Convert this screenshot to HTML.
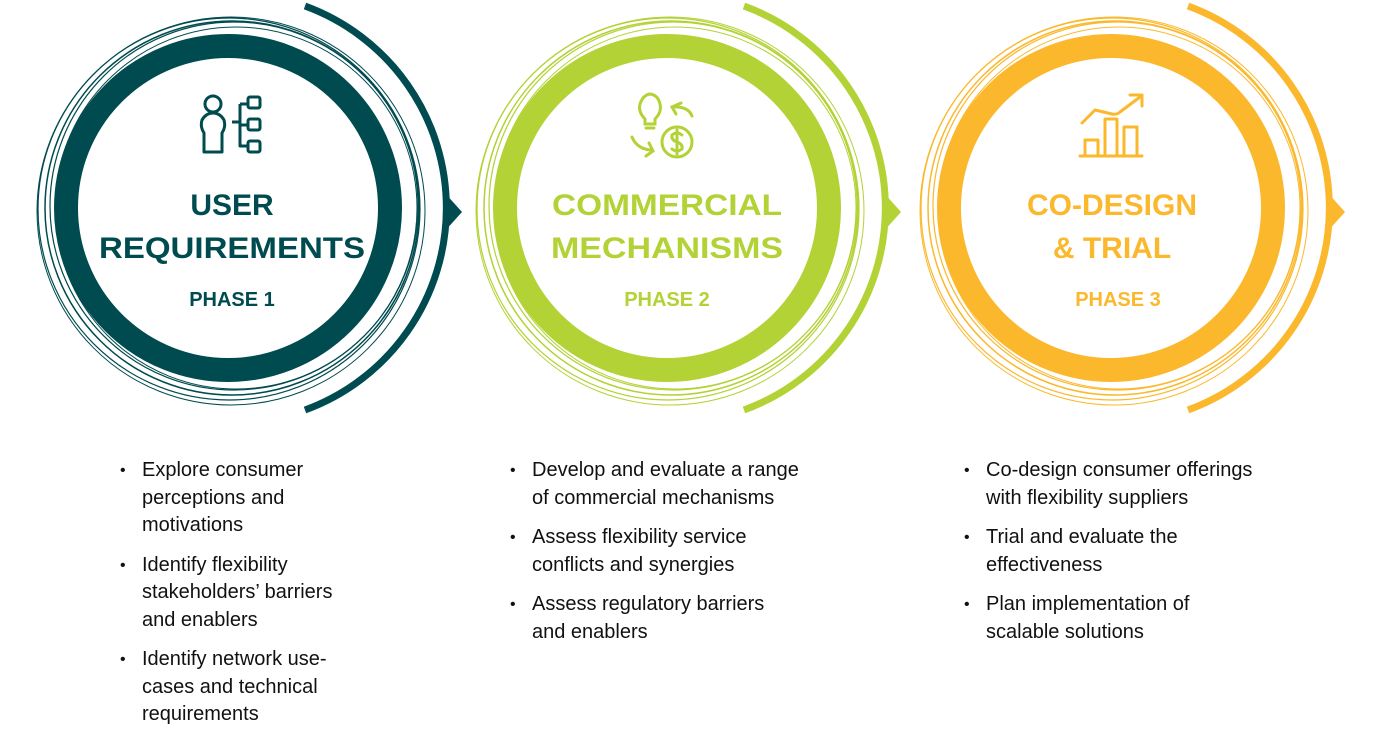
<!DOCTYPE html>
<html><head><meta charset="utf-8"><style>
body{margin:0;width:1392px;height:737px;background:#fff;overflow:hidden;position:relative;font-family:"Liberation Sans",sans-serif}
svg{position:absolute;left:0;top:0}
ul{position:absolute;margin:0;padding:0;list-style:none;font-size:20px;line-height:27.5px;color:#111;white-space:nowrap}
li{position:relative;padding-left:22px;margin-bottom:12px}
li:before{content:"•";position:absolute;left:0;top:0;font-size:16px}
</style></head><body>
<svg width="1392" height="737" viewBox="0 0 1392 737" font-family="Liberation Sans, sans-serif" text-anchor="middle">
<defs>
<g id="rings">
<circle cx="0" cy="0" r="187" fill="none" stroke-width="1.5"/>
<circle cx="-3" cy="1" r="191" fill="none" stroke-width="1.2"/>
<circle cx="2" cy="-2" r="184" fill="none" stroke-width="1.2"/>
<circle cx="-1" cy="3" r="194" fill="none" stroke-width="1"/>
<circle cx="4" cy="0" r="181" fill="none" stroke-width="1"/>
<ellipse cx="-4" cy="0" rx="162" ry="162" fill="none" stroke-width="24"/>
<path d="M73,-202 A215,215 0 0 1 73,202" fill="none" stroke-width="7"/>
<path d="M212,-16 L230,4 L212,24 Z" stroke="none"/>
</g>
</defs>
<g transform="translate(232,208)" stroke="#004b50" fill="#004b50"><use href="#rings"/></g>
<g transform="translate(671,208)" stroke="#b2d235" fill="#b2d235"><use href="#rings"/></g>
<g transform="translate(1115,208)" stroke="#fbb82d" fill="#fbb82d"><use href="#rings"/></g>

<g fill="none" stroke="#004b50" stroke-width="3" stroke-linejoin="round">
<circle cx="213" cy="104" r="8"/>
<path d="M204,152 V133 Q200,127 202,120 Q206,113 213,113 Q220,113 224,120 Q226,127 222,133 V152 Z"/>
<path d="M232,122 H240 M240,104 V146 H248 M240,104 H248 M240,125 H248"/>
<rect x="248" y="97" width="12" height="11" rx="2"/><rect x="248" y="119" width="12" height="11" rx="2"/><rect x="248" y="141" width="12" height="11" rx="2"/>
</g>
<g fill="none" stroke="#b2d235" stroke-width="3" stroke-linecap="round">
<path d="M645,119 Q638,112 640,104 Q643,95 650,94 Q658,95 660,104 Q662,112 655,119 V124 H645 Z"/>
<path d="M646,128 H654"/>
<circle cx="677" cy="142" r="15"/>
<path d="M682,135 Q677,131 672,135 Q671,140 677,142 Q683,144 682,149 Q677,153 672,149 M677,130 V154"/>
<path d="M681,103 L672,107 L676,114 M672,107 Q688,106 692,116"/>
<path d="M632,137 Q637,149 651,150 M646,156 L653,151 L649,143"/>
</g>
<g fill="none" stroke="#fbb82d" stroke-width="3" stroke-linecap="round" stroke-linejoin="round">
<path d="M1082,123 L1095,110 L1112,114 Q1117,115 1120,112 L1140,97 M1130,95 H1142 V106"/>
<path d="M1080,156 H1142"/>
<rect x="1085" y="140" width="13" height="16"/><rect x="1105" y="119" width="12" height="37"/><rect x="1124" y="127" width="13" height="29"/>
</g>

<g font-size="30" font-weight="bold" fill="#004b50">
<text x="232" y="215">USER</text><text x="232" y="258" textLength="266" lengthAdjust="spacingAndGlyphs">REQUIREMENTS</text>
<text x="232" y="306" font-size="20">PHASE 1</text></g>
<g font-size="30" font-weight="bold" fill="#b2d235">
<text x="667" y="215" textLength="230" lengthAdjust="spacingAndGlyphs">COMMERCIAL</text><text x="667" y="258" textLength="232" lengthAdjust="spacingAndGlyphs">MECHANISMS</text>
<text x="667" y="306" font-size="20">PHASE 2</text></g>
<g font-size="30" font-weight="bold" fill="#fbb82d">
<text x="1112" y="215">CO-DESIGN</text><text x="1112" y="258">&amp; TRIAL</text>
<text x="1118" y="306" font-size="20">PHASE 3</text></g>
</svg>
<ul style="left:120px;top:457px">
<li>Explore consumer<br>perceptions and<br>motivations</li>
<li>Identify flexibility<br>stakeholders’ barriers<br>and enablers</li>
<li>Identify network use-<br>cases and technical<br>requirements</li>
</ul>
<ul style="left:510px;top:457px">
<li>Develop and evaluate a range<br>of commercial mechanisms</li>
<li>Assess flexibility service<br>conflicts and synergies</li>
<li>Assess regulatory barriers<br>and enablers</li>
</ul>
<ul style="left:964px;top:457px">
<li>Co-design consumer offerings<br>with flexibility suppliers</li>
<li>Trial and evaluate the<br>effectiveness</li>
<li>Plan implementation of<br>scalable solutions</li>
</ul>
</body></html>
